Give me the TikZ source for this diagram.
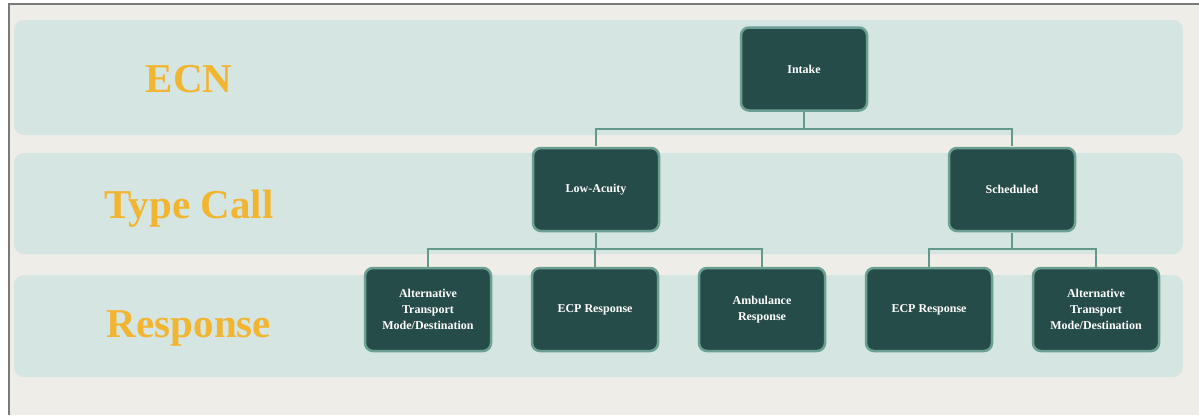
\documentclass[tikz,border=0pt]{standalone}
\usepackage{fontspec}
\setmainfont{Liberation Serif}
\definecolor{bgpaper}{HTML}{EFEDE8}
\definecolor{bandcol}{HTML}{D5E5E1}
\definecolor{boxfill}{HTML}{264C4A}
\definecolor{boxedge}{HTML}{6A9F92}
\definecolor{conncol}{HTML}{62998B}
\definecolor{goldtxt}{HTML}{F2B531}
\definecolor{framecol}{HTML}{7A7A7A}
\tikzset{
  band/.style={fill=bandcol, draw=none, rounded corners=10pt},
  tbox/.style={draw=boxedge, line width=2.5pt, fill=boxfill, rounded corners=8pt,
    minimum width=126pt, minimum height=83pt, text=white, align=center,
    font=\fontsize{12}{16}\selectfont\bfseries, inner sep=2pt},
  conn/.style={draw=conncol, line width=2.8pt},
  rowlabel/.style={text=goldtxt, anchor=base, font=\fontsize{41}{46}\selectfont\bfseries, inner sep=0pt}
}
\begin{document}
\begin{tikzpicture}[x=1pt,y=-1pt]
\useasboundingbox (0,0) rectangle (1199,415);
\fill[white] (0,0) rectangle (1199,415);
\fill[bgpaper] (9,4) rectangle (1199,415);
\draw[framecol, line width=1.5pt] (9,415) -- (9,4) -- (1199,4);
% bands
\path[band] (14,20) rectangle (1183,135);
\path[band] (14,153) rectangle (1183,254);
\path[band] (14,275) rectangle (1183,377);
% row labels
\node[rowlabel] (lecn) at (189,92) {ECN};
\node[rowlabel] (ltype) at (189,218) {Type Call};
\node[rowlabel] (lresp) at (189,337) {Response};
% bus points
\coordinate (bus1) at (804,129);
\coordinate (bus2) at (596,249);
\coordinate (bus3) at (1012,249);
% connectors
\draw[conn] (804,111) -- (bus1);
\draw[conn] (596,146) |- (bus1) -| (1012,146);
\draw[conn] (596,233) -- (bus2);
\draw[conn] (428,267) |- (bus2) -| (762,267);
\draw[conn] (595,267) -- (595,249);
\draw[conn] (1012,233) -- (bus3);
\draw[conn] (929,267) |- (bus3) -| (1096,267);
% boxes
\node[tbox] (intake) at (804,69) {Intake};
\node[tbox] (low) at (596,189.5) {Low-Acuity};
\node[tbox] (sched) at (1012,189.5) {Scheduled};
\node[tbox] (alt1) at (428,309.5) {Alternative\\Transport\\Mode/Destination};
\node[tbox] (ecp1) at (595,309.5) {ECP Response};
\node[tbox] (amb) at (762,309.5) {Ambulance\\Response};
\node[tbox] (ecp2) at (929,309.5) {ECP Response};
\node[tbox] (alt2) at (1096,309.5) {Alternative\\Transport\\Mode/Destination};
\end{tikzpicture}
\end{document}
